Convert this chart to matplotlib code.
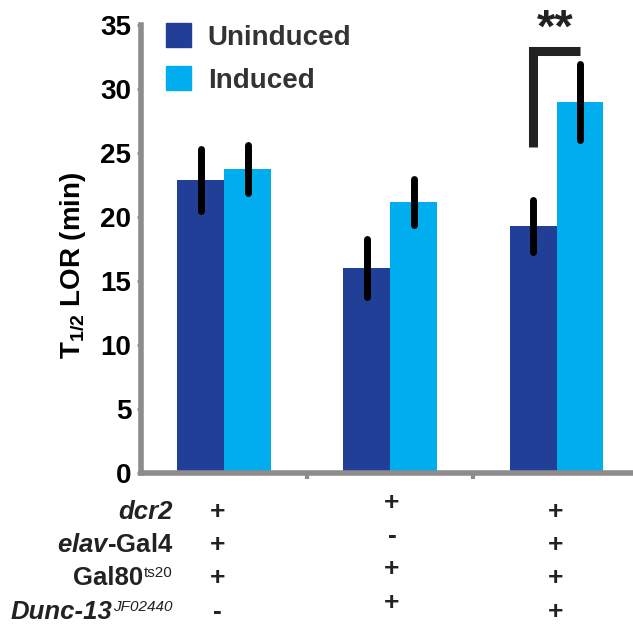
import numpy as np
import matplotlib
matplotlib.use('Agg')
import matplotlib.pyplot as plt
import matplotlib.transforms as mtransforms
from matplotlib.patches import Patch

plt.rcParams['font.family'] = ['Liberation Sans', 'DejaVu Sans']
plt.rcParams['mathtext.fontset'] = 'custom'
plt.rcParams['mathtext.rm'] = 'Liberation Sans'
plt.rcParams['mathtext.it'] = 'Liberation Sans:italic:bold'
plt.rcParams['mathtext.bf'] = 'Liberation Sans:bold'

# data
groups = [0, 1, 2]
uninduced = [22.9, 16.0, 19.3]
uninduced_err = [2.45, 2.25, 2.05]
induced = [23.75, 21.2, 29.0]
induced_err = [1.85, 1.8, 2.95]
yticks = [0, 5, 10, 15, 20, 25, 30, 35]

row_labels = ['dcr2', r'$\mathit{elav}$-Gal4', 'Gal80', 'Dunc-13']
row_sups = ['', '', 'ts20', 'JF02440']
row_italic = [True, False, False, True]
genotype = [['+', '+', '+', '-'],
            ['+', '-', '+', '+'],
            ['+', '+', '+', '+']]

dark = '#223f98'
light = '#00aeef'
grey = '#8c8c8c'

fig = plt.figure(figsize=(6.33, 6.29), dpi=100)
ax = fig.add_axes([141/633, 156/629, 1 - 141/633, 448/629])

w = 0.282
x = np.array(groups, dtype=float)
ax.bar(x - w/2, uninduced, w, color=dark, label='Uninduced', zorder=2)
ax.bar(x + w/2, induced, w, color=light, label='Induced', zorder=2)
for xs, v, e in [(x - w/2, uninduced, uninduced_err), (x + w/2, induced, induced_err)]:
    eb = ax.errorbar(xs, v, yerr=e, fmt='none', ecolor='black', elinewidth=5,
                     capsize=0, zorder=3)
    eb.lines[2][0].set_capstyle('round')

ax.set_xlim(-0.5, 2.46)
ax.set_ylim(0, 35)
ax.set_yticks(yticks)
ax.set_yticklabels([str(t) for t in yticks], fontweight='bold', fontsize=20,
                   family=['Liberation Sans Narrow', 'Liberation Sans'])
ax.set_xticks([0.5, 1.5])
ax.set_xticklabels([])
ax.tick_params(axis='y', direction='out', length=3, width=2, color=grey, pad=4)
ax.tick_params(axis='x', direction='out', length=4, width=3, color=grey)
for s in ['top', 'right']:
    ax.spines[s].set_visible(False)
for s in ['left', 'bottom']:
    ax.spines[s].set_color(grey)
    ax.spines[s].set_linewidth(4)

ax.set_ylabel(r'T$_{\mathbf{1/2}}$ LOR (min)', fontsize=20, fontweight='bold')
ax.yaxis.set_label_coords(-0.108, 0.464)

# significance bracket
xl = 2 - w/2
xr = 2 + w/2
ax.plot([xl, xl, xr], [25.5, 33.0, 33.0], color='#222222', lw=6.5,
        solid_joinstyle='miter', solid_capstyle='butt', clip_on=False, zorder=4)
ax.text(1.99, 33.7, '**', ha='center', va='baseline', fontsize=34,
        fontweight='bold', color='#222222', clip_on=False)

leg = ax.legend(handles=[Patch(color=dark, label='Uninduced'),
                         Patch(color=light, label='Induced')],
                loc='upper left', bbox_to_anchor=(166/633, 1 - 23/629),
                bbox_transform=fig.transFigure, frameon=False, fontsize=20,
                handlelength=0.9, handleheight=0.97, handletextpad=0.6,
                labelspacing=0.55, borderpad=0, borderaxespad=0)
for t in leg.get_texts():
    t.set_fontweight('bold')
    t.set_color('#333333')

# genotype table
r = fig.canvas.get_renderer()
W, H = fig.bbox.width, fig.bbox.height
xr_lab = 173 / 633
row_y = [512, 545, 578, 612]
for i, lab in enumerate(row_labels):
    sty = 'italic' if row_italic[i] else 'normal'
    xm = xr_lab
    sup = None
    if row_sups[i]:
        sup = fig.text(xr_lab, 0, row_sups[i], ha='right', va='top', fontsize=11,
                       style=sty, color='#222222')
        xm = xr_lab - (sup.get_window_extent(r).width + 1) / W
    mt = fig.text(xm, 1 - row_y[i]/629, lab, ha='right', va='center',
                  fontsize=18.5, fontweight='bold', color='#222222', style=sty)
    if sup is not None:
        sup.set_y(mt.get_window_extent(r).y1 / H)

trans = mtransforms.blended_transform_factory(ax.transData, fig.transFigure)
col_dx = [-0.04, 0.01, -0.005]
col_dy = [0, -9, 0]
for c, col in enumerate(genotype):
    for i, sym in enumerate(col):
        ax.text(groups[c] + col_dx[c], 1 - (row_y[i] + col_dy[c])/629, sym,
                transform=trans, ha='center', va='center', fontsize=19,
                fontweight='bold', color='#222222')

fig.savefig('out.png', dpi=100)
